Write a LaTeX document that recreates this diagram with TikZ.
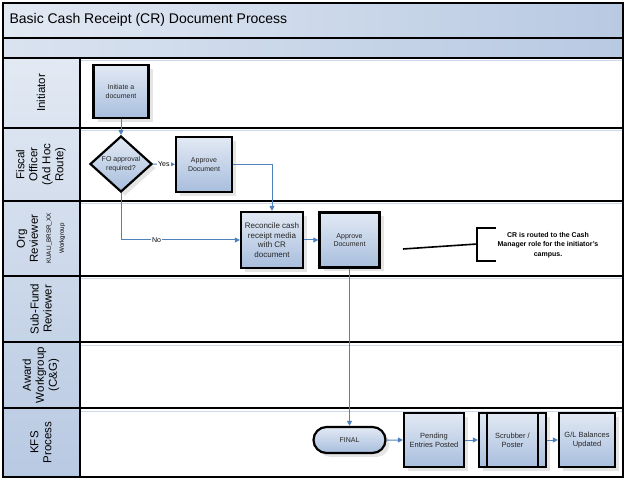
\documentclass[tikz,border=0pt]{standalone}
\usepackage{fontspec}
\setmainfont{Liberation Sans}
\usetikzlibrary{shapes.geometric,shapes.misc,arrows.meta,shadows,calc}

\definecolor{boxlight}{RGB}{226,233,244}
\definecolor{boxdark}{RGB}{168,190,221}
\definecolor{hdrlight}{RGB}{226,233,243}
\definecolor{hdrdark}{RGB}{184,201,226}
\definecolor{flowblue}{RGB}{79,129,189}
\definecolor{lanetint}{RGB}{205,218,237}

\begin{document}
\begin{tikzpicture}[x=1pt,y=-1pt]
	\tikzstyle{procbox} = [draw, line width=2.2pt, shape=rectangle, align=center, inner sep=1pt, font=\fontsize{7}{8.4}\selectfont, text=black!85, top color=boxlight, bottom color=boxdark, drop shadow={shadow xshift=4pt, shadow yshift=-4pt, fill=black!20, opacity=0.5}]
	\tikzstyle{decbox} = [procbox, shape=diamond, aspect=1, inner sep=0pt, minimum width=62pt, minimum height=56pt]
	\tikzstyle{termbox} = [procbox, shape=rounded rectangle, minimum width=74pt, minimum height=26pt]
	\tikzstyle{flowedge} = [-{Triangle[length=5pt,width=5pt]}, draw=flowblue, line width=1pt, font=\fontsize{7}{8}\selectfont]
	\tikzstyle{lanelabel} = [rotate=90, align=center, font=\fontsize{11.5}{13}\selectfont]
	\tikzstyle{laneline} = [line width=2pt]

	\useasboundingbox (0,0) rectangle (627,481);

	% LANES %
	\shade[left color=hdrlight, right color=hdrdark] (3,3) rectangle (623,38);
	\shade[left color=hdrlight!80!hdrdark, right color=hdrdark] (3,38) rectangle (623,58);
	\shade[top color=hdrlight, bottom color=hdrdark] (3,58) rectangle (80,477);
	\foreach \ly in {128,201,276,342,408}
		\draw[lanetint, line width=1pt] (80,\ly+3) -- (623,\ly+3);
	\draw[lanetint, line width=1pt] (80,61) -- (623,61);
	\draw[laneline] (3,3) rectangle (623,477);
	\draw[laneline] (3,38) -- (623,38);
	\foreach \ly in {58,128,201,276,342,408}
		\draw[laneline] (3,\ly) -- (623,\ly);
	\draw[laneline] (80,58) -- (80,477);

	\node[anchor=west, font=\fontsize{14}{16}\selectfont] (title) at (6,20) {Basic Cash Receipt (CR) Document Process};

	\node[lanelabel] (initiator) at (41,93) {Initiator};
	\node[lanelabel] (fiscal) at (41,164.5) {Fiscal\\Officer\\(Ad Hoc\\Route)};
	\node[lanelabel] (orgrev) at (41,238.5) {Org\\Reviewer\\{\fontsize{6.2}{7.5}\selectfont KUALI\_BRSR\_XX}\\{\fontsize{6.2}{7.5}\selectfont Workgroup}};
	\node[lanelabel] (subfund) at (41,309) {Sub-Fund\\Reviewer};
	\node[lanelabel] (award) at (41,375) {Award\\Workgroup\\(C\&G)};
	\node[lanelabel] (kfs) at (41,442.5) {KFS\\Process};

	% NODES %
	\node[procbox, minimum width=55pt, minimum height=53pt] (init) at (121,91.5) {Initiate a\\document};
	\node[decbox] (dec) at (121,164) {FO approval\\required?};
	\node[procbox, minimum width=56pt, minimum height=55pt] (appfo) at (204,164.5) {Approve\\Document};
	\node[procbox, minimum width=62pt, minimum height=56pt, font=\fontsize{8}{9.5}\selectfont] (recon) at (272,240) {Reconcile cash\\receipt media\\with CR\\document};
	\node[procbox, minimum width=60pt, minimum height=55pt] (apporg) at (349.5,240) {Approve\\Document};
	\node[termbox] (final) at (349.5,440) {FINAL};
	\node[procbox, minimum width=60pt, minimum height=54pt, font=\fontsize{7.5}{9}\selectfont] (pend) at (434,440) {Pending\\Entries Posted};
	\node[procbox, minimum width=67pt, minimum height=54pt, font=\fontsize{7.5}{9}\selectfont] (scrub) at (512.5,440) {Scrubber /\\Poster};
	\draw[line width=2.2pt] ($(scrub.north west)+(9,0)$) -- ($(scrub.south west)+(9,0)$);
	\draw[line width=2.2pt] ($(scrub.north east)+(-9,0)$) -- ($(scrub.south east)+(-9,0)$);
	\node[procbox, minimum width=56pt, minimum height=54pt, font=\fontsize{7.5}{9}\selectfont] (gl) at (587,440) {G/L Balances\\Updated};

	% NOTE %
	\coordinate (notefrom) at (403,249);
	\coordinate (notetop) at (496,228);
	\coordinate (notebot) at (496,261);
	\draw[line width=1.6pt] (notetop) -| (477,261) -- (notebot);
	\draw[line width=1.6pt] (notefrom) -- (477,244);
	\node[align=center, font=\bfseries\fontsize{7}{9.5}\selectfont] (note) at (548,245) {CR is routed to the Cash\\Manager role for the initiator's\\campus.};

	% EDGES %
	\draw[flowedge] (init) -- (dec);
	\draw[flowedge] (dec) -- node[fill=white, inner sep=1pt] {Yes} (appfo);
	\draw[flowedge] (appfo.east) -| (recon.north);
	\draw[flowedge] (dec.south) |- node[pos=0.65, fill=white, inner sep=1pt] {No} (recon.west);
	\draw[flowedge] (recon) -- (apporg);
	\draw[flowedge] (apporg) -- (final);
	\draw[flowedge] (final) -- (pend);
	\draw[flowedge] (pend) -- (scrub);
	\draw[flowedge] (scrub) -- (gl);
\end{tikzpicture}
\end{document}
